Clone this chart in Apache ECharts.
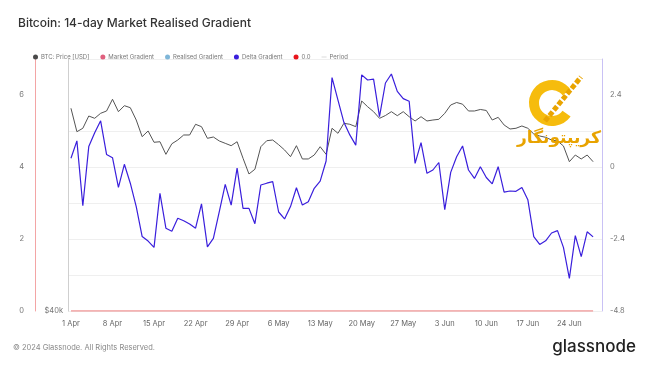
<!DOCTYPE html>
<html><head><meta charset="utf-8">
<script src="https://cdn.jsdelivr.net/npm/echarts@6/dist/echarts.min.js"></script>
<style>html,body{margin:0;padding:0;background:#fff}#c{width:650px;height:365px}</style>
</head><body><div id="c"></div>
<script>
// ---- data ----
const monthNames = ['Jan','Feb','Mar','Apr','May','Jun','Jul','Aug','Sep','Oct','Nov','Dec'];
const firstDay = {year: 2024, month: 3, day: 1}; // 1 Apr 2024
const categoryCount = 90; // 1 Apr .. 29 Jun
const legendNames = ['BTC: Price [USD]','Market Gradient','Realised Gradient','Delta Gradient','0.0','Period'];
const btcPrice = [69860,65500,66120,68390,67960,68900,69340,71610,69210,70360,
69970,67640,64610,65630,63620,63720,61550,63360,64020,64910,
64910,66850,66410,64320,64550,63850,63440,63030,63720,60880,
58310,59070,62850,63900,64020,63200,62290,61150,63030,60770,
60770,61430,62850,61550,66120,65210,67030,66850,66410,71270,
70160,69210,67960,68480,69210,68450,69210,68260,67460,68260,
67460,67640,67770,68900,70490,70980,70650,69340,69340,69630,
69440,67640,68140,66720,65990,66120,66540,66120,65090,64730,
64500,64020,63850,62980,60310,61430,60770,61430,60310];
const deltaGradient = [0.29,0.87,-1.29,0.68,1.14,1.54,0.42,0.31,-0.68,0.09,
-0.54,-1.32,-2.32,-2.47,-2.68,-0.88,-2.04,-2.14,-1.71,-1.79,
-1.90,-2.04,-1.23,-2.66,-2.38,-1.49,-0.58,-1.27,-0.04,-1.38,
-1.38,-1.89,-0.60,-0.54,-0.49,-1.50,-1.73,-1.32,-0.69,-1.27,
-1.16,-0.71,-0.47,0.20,2.98,2.23,1.49,1.07,0.73,3.07,
2.90,2.93,1.68,2.80,3.10,2.52,2.28,2.19,0.12,0.81,
-0.21,-0.10,0.15,-1.42,-0.18,0.34,0.70,-0.10,-0.38,0.01,
-0.35,-0.56,0.01,-0.84,-0.80,-0.81,-0.68,-1.09,-2.32,-2.58,
-2.46,-2.20,-2.12,-2.68,-3.71,-2.29,-2.99,-2.16,-2.33];
const zeroLevel = 0.0;
const gradientTicks = [0, 2, 4, 6];
const deltaTicks = [-4.8, -2.4, 0, 2.4];

// ---- build ----
const categories = [];
for (let i = 0; i < categoryCount; i++) {
  const d = new Date(Date.UTC(firstDay.year, firstDay.month, firstDay.day + i));
  categories.push(d.getUTCDate() + ' ' + monthNames[d.getUTCMonth()]);
}
const zeroSeries = btcPrice.map(() => zeroLevel);
const FONT = 'Inter, Roboto, "Noto Sans", sans-serif';
const GRID = '#efefef', NOGRID = 'rgba(0,0,0,0)';

const chart = echarts.init(document.getElementById('c'), null, {renderer: 'canvas'});
chart.setOption({
  animation: false,
  backgroundColor: '#fff',
  textStyle: {fontFamily: FONT},
  title: {
    text: 'Bitcoin: 14-day Market Realised Gradient',
    left: 13, top: 12,
    textStyle: {fontSize: 12, fontWeight: 500, color: '#333', fontFamily: FONT}
  },
  legend: {
    top: 49, left: 28,
    itemWidth: 5, itemHeight: 5, itemGap: 11,
    textStyle: {fontSize: 6, color: '#777', fontFamily: FONT, padding: [0,0,0,-2]},
    data: [
      {name: legendNames[0], icon: 'circle'},
      {name: legendNames[1], icon: 'circle'},
      {name: legendNames[2], icon: 'circle'},
      {name: legendNames[3], icon: 'circle'},
      {name: legendNames[4], icon: 'circle'},
      {name: legendNames[5], icon: 'path://M0,0 L14,0 L14,1 L0,1 Z'}
    ]
  },
  grid: {left: 68, right: 48, top: 59, bottom: 54, containLabel: false},
  xAxis: {
    type: 'category', data: categories, boundaryGap: true,
    axisLine: {show: false}, axisTick: {show: false},
    axisLabel: {
      interval: (idx) => idx % 7 === 0,
      fontSize: 7.5, color: '#666', margin: 9, fontFamily: FONT
    },
    splitLine: {show: false}
  },
  yAxis: [
    {
      type: 'value', position: 'left', offset: 33, min: 0, max: 7, interval: 1,
      axisLine: {show: true, lineStyle: {color: '#f3a5a5', width: 1}},
      axisTick: {show: false},
      axisLabel: {fontSize: 7.5, color: '#777', margin: 11, fontFamily: FONT,
        formatter: (v) => gradientTicks.includes(v) ? String(v) : ''},
      splitLine: {show: true, lineStyle: {color: [GRID, GRID, GRID, GRID, GRID, GRID, NOGRID, GRID], width: 1}}
    },
    {
      type: 'log', logBase: 2, position: 'left', offset: 0, min: 40000, max: 80000,
      axisLine: {show: true, lineStyle: {color: '#cfcfcf', width: 1}},
      axisTick: {show: false},
      axisLabel: {fontSize: 7.5, color: '#777', margin: 5, showMinLabel: true, fontFamily: FONT,
        formatter: (v) => Math.abs(v - 40000) < 50 ? '$40k' : ''},
      splitLine: {show: false}
    },
    {
      type: 'value', position: 'right', min: -4.8, max: 3.6, interval: 2.4,
      axisLine: {show: true, lineStyle: {color: '#c9c1f5', width: 1}},
      axisTick: {show: false},
      axisLabel: {fontSize: 7.5, color: '#777', margin: 8, fontFamily: FONT,
        formatter: (v) => deltaTicks.some(t => Math.abs(t - v) < 1e-6) ? String(Number(v.toFixed(1))) : ''},
      splitLine: {show: false}
    }
  ],
  series: [
    {name: legendNames[0], type: 'line', yAxisIndex: 1, data: btcPrice, symbol: 'none',
      color: '#4a4a4a', lineStyle: {width: 1, color: '#555'}, z: 3},
    {name: legendNames[1], type: 'line', yAxisIndex: 0, data: [], symbol: 'none', color: '#e0607e'},
    {name: legendNames[2], type: 'line', yAxisIndex: 0, data: [], symbol: 'none', color: '#7fb6d8'},
    {name: legendNames[3], type: 'line', yAxisIndex: 2, data: deltaGradient, symbol: 'none',
      color: '#3a1fdc', lineStyle: {width: 1.2, color: '#3a1fdc'}, z: 4},
    {name: legendNames[4], type: 'line', yAxisIndex: 0, data: zeroSeries, symbol: 'none',
      color: '#e8141b', lineStyle: {width: 1.5, color: '#f19a9a'}, z: 2},
    {name: legendNames[5], type: 'line', yAxisIndex: 0, data: [], symbol: 'none', color: '#999'}
  ],
  graphic: [
    {type: 'text', left: 13, top: 344,
      style: {text: '© 2024 Glassnode. All Rights Reserved.', fontSize: 7.5, fill: '#888', fontFamily: FONT}},
    {type: 'text', right: 14, top: 338,
      style: {text: 'glassnode', fontSize: 17, fill: '#222', fontWeight: 500, fontFamily: FONT}},
    // watermark
    {type: 'arc', z: 10, shape: {cx: 552, cy: 103, r: 18, startAngle: Math.PI * 0.2, endAngle: Math.PI * 1.8, clockwise: true},
      style: {stroke: '#f5b800', lineWidth: 10, fill: null, opacity: 0.95}},
    {type: 'line', z: 11, shape: {x1: 545, y1: 121, x2: 581, y2: 77},
      style: {stroke: '#e9a400', lineWidth: 5, lineDash: [5, 2]}},
    {type: 'text', z: 11, left: 517, top: 130,
      style: {text: 'کریپتونگار', fontSize: 17, fontWeight: 'bold', fill: '#e8a300', fontFamily: '"DejaVu Sans", sans-serif'}}
  ]
});
</script></body></html>
